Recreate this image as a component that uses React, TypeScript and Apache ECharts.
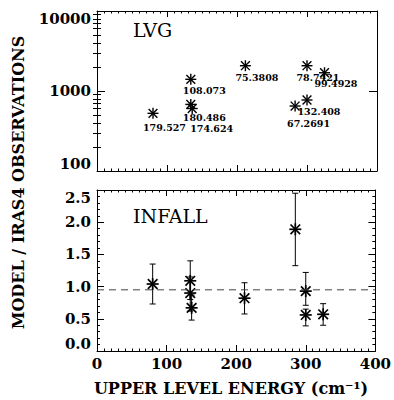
import React, { useEffect, useRef } from 'react';
import * as echarts from 'echarts';

// ---------- data ----------
const energyTicks = [0, 100, 200, 300, 400];

// LVG panel (top)
const lvgEnergy = [80, 134, 134, 136, 212, 300, 325, 283, 300];
const lvgValues = [526, 1400, 680, 604, 2070, 2070, 1690, 649, 772];
const lvgLabels = ['179.527', '108.073', '180.486', '174.624', '75.3808', '78.7421', '99.4928', '67.2691', '132.408'];
const lvgMajorTicks = [100, 1000, 10000];
const lvgMinorTicks = [200, 300, 400, 500, 600, 700, 800, 900, 2000, 3000, 4000, 5000, 6000, 7000, 8000, 9000];

// INFALL panel (bottom)
const infallEnergy = [80, 134, 134, 136, 212, 285, 300, 300, 325];
const infallRatio = [1.04, 1.09, 0.9, 0.67, 0.82, 1.89, 0.93, 0.56, 0.57];
const infallLow = [0.73, 0.8, 0.62, 0.48, 0.575, 1.325, 0.71, 0.39, 0.4];
const infallHigh = [1.35, 1.4, 1.15, 0.87, 1.06, 2.45, 1.22, 0.65, 0.735];
const referenceLevel = 0.95;

// ---------- layout / style constants ----------
const LABEL_NUDGE: number[][] = [
  [-10, 14], [-8, 11.5], [-8, 13], [-2, 20], [-10, 12], [-10.5, 12], [-10, 11], [-8, 17.5], [-9.5, 11.5],
];
const SERIF = '"DejaVu Serif", serif';
const INK = '#000';

function star(cx: number, cy: number, r: number, w: number) {
  const d = r * 0.8;
  const s = { stroke: INK, lineWidth: w };
  return [
    { type: 'line', shape: { x1: cx, y1: cy - r, x2: cx, y2: cy + r }, style: s },
    { type: 'line', shape: { x1: cx - r, y1: cy, x2: cx + r, y2: cy }, style: s },
    { type: 'line', shape: { x1: cx - d, y1: cy - d, x2: cx + d, y2: cy + d }, style: s },
    { type: 'line', shape: { x1: cx - d, y1: cy + d, x2: cx + d, y2: cy - d }, style: s },
  ];
}

const axisLine = { show: true, onZero: false, lineStyle: { color: INK, width: 1 } };
const tickLabel = { color: INK, fontSize: 15, fontWeight: 'bold', fontFamily: SERIF };

function xAxes(gridIndex: number, withLabels: boolean) {
  const base = {
    type: 'value',
    gridIndex,
    min: energyTicks[0],
    max: energyTicks[energyTicks.length - 1],
    interval: 100,
    axisLine,
    splitLine: { show: false },
    axisTick: { show: true, inside: true, length: 6, lineStyle: { color: INK } },
    minorTick: { show: true, splitNumber: 10, length: 2.5, lineStyle: { color: INK } },
  };
  return [
    { ...base, position: 'bottom', axisLabel: withLabels ? { ...tickLabel, margin: 5 } : { show: false } },
    { ...base, position: 'top', axisLabel: { show: false } },
  ];
}

const option: any = {
  animation: false,
  backgroundColor: '#fff',
  grid: [
    { left: 97, right: 17, top: 11, height: 160 },
    { left: 97, right: 17, top: 190, height: 161 },
  ],
  xAxis: [...xAxes(0, false), ...xAxes(1, true)],
  yAxis: [
    {
      type: 'log', gridIndex: 0, position: 'left', logBase: 10, min: 100, max: 10000,
      axisLine, splitLine: { show: false },
      axisTick: { show: true, inside: true, length: 8, customValues: lvgMajorTicks, lineStyle: { color: INK } },
      axisLabel: {
        ...tickLabel, margin: 6, customValues: lvgMajorTicks,
        verticalAlignMinLabel: 'bottom', verticalAlignMaxLabel: 'top',
        formatter: (v: number) => String(Math.round(v)),
      },
    },
    {
      type: 'log', gridIndex: 0, position: 'right', logBase: 10, min: 100, max: 10000,
      axisLine, splitLine: { show: false },
      axisTick: { show: true, inside: true, length: 8, customValues: lvgMajorTicks, lineStyle: { color: INK } },
      axisLabel: { show: false },
    },
    {
      type: 'log', gridIndex: 0, position: 'left', logBase: 10, min: 100, max: 10000,
      axisLine: { show: false }, splitLine: { show: false },
      axisTick: { show: true, inside: true, length: 4, customValues: lvgMinorTicks, lineStyle: { color: INK } },
      axisLabel: { show: false },
    },
    {
      type: 'log', gridIndex: 0, position: 'right', logBase: 10, min: 100, max: 10000,
      axisLine: { show: false }, splitLine: { show: false },
      axisTick: { show: true, inside: true, length: 4, customValues: lvgMinorTicks, lineStyle: { color: INK } },
      axisLabel: { show: false },
    },
    {
      type: 'value', gridIndex: 1, position: 'left', min: 0, max: 2.5, interval: 0.5,
      axisLine, splitLine: { show: false },
      axisTick: { show: true, inside: true, length: 7, lineStyle: { color: INK } },
      minorTick: { show: true, splitNumber: 5, length: 3, lineStyle: { color: INK } },
      axisLabel: {
        ...tickLabel, margin: 6,
        verticalAlignMinLabel: 'bottom', verticalAlignMaxLabel: 'top',
        formatter: (v: number) => v.toFixed(1),
      },
    },
    {
      type: 'value', gridIndex: 1, position: 'right', min: 0, max: 2.5, interval: 0.5,
      axisLine, splitLine: { show: false },
      axisTick: { show: true, inside: true, length: 7, lineStyle: { color: INK } },
      minorTick: { show: true, splitNumber: 5, length: 3, lineStyle: { color: INK } },
      axisLabel: { show: false },
    },
  ],
  graphic: [
    { type: 'text', left: 133, top: 20, style: { text: 'LVG', font: `19px ${SERIF}`, fill: INK } },
    { type: 'text', left: 133, top: 206, style: { text: 'INFALL', font: `19px ${SERIF}`, fill: INK } },
    {
      type: 'text', x: 18, y: 182.5, rotation: Math.PI / 2,
      style: { text: 'MODEL / IRAS4 OBSERVATIONS', font: `bold 16px ${SERIF}`, fill: INK, align: 'center', verticalAlign: 'middle' },
    },
    {
      type: 'text', x: 231, y: 388,
      style: { text: 'UPPER LEVEL ENERGY (cm⁻¹)', font: `bold 16px ${SERIF}`, fill: INK, align: 'center', verticalAlign: 'middle' },
    },
  ],
  series: [
    {
      type: 'custom', xAxisIndex: 0, yAxisIndex: 0, clip: false,
      data: lvgEnergy.map((x, i) => [x, lvgValues[i], i]),
      renderItem: (_p: any, api: any) => {
        const i = api.value(2);
        const pt = api.coord([api.value(0), api.value(1)]);
        const [dx, dy] = LABEL_NUDGE[i];
        return {
          type: 'group',
          children: [
            ...star(pt[0], pt[1], 5.5, 1.4),
            {
              type: 'text',
              style: {
                text: lvgLabels[i], x: pt[0] + dx, y: pt[1] + dy,
                font: `bold 9.5px ${SERIF}`, fill: INK, align: 'left', verticalAlign: 'middle',
              },
            },
          ],
        };
      },
    },
    {
      type: 'line', xAxisIndex: 2, yAxisIndex: 4, symbol: 'none', silent: true,
      data: [[energyTicks[0], referenceLevel], [energyTicks[energyTicks.length - 1], referenceLevel]],
      lineStyle: { color: '#444', width: 1, type: [7, 5] },
    },
    {
      type: 'custom', xAxisIndex: 2, yAxisIndex: 4, clip: false,
      data: infallEnergy.map((x, i) => [x, infallLow[i], infallHigh[i]]),
      renderItem: (_p: any, api: any) => {
        const lo = api.coord([api.value(0), api.value(1)]);
        const hi = api.coord([api.value(0), api.value(2)]);
        const s = { stroke: INK, lineWidth: 1 };
        const c = 3;
        return {
          type: 'group',
          children: [
            { type: 'line', shape: { x1: lo[0], y1: lo[1], x2: hi[0], y2: hi[1] }, style: s },
            { type: 'line', shape: { x1: lo[0] - c, y1: lo[1], x2: lo[0] + c, y2: lo[1] }, style: s },
            { type: 'line', shape: { x1: hi[0] - c, y1: hi[1], x2: hi[0] + c, y2: hi[1] }, style: s },
          ],
        };
      },
    },
    {
      type: 'custom', xAxisIndex: 2, yAxisIndex: 4, clip: false,
      data: infallEnergy.map((x, i) => [x, infallRatio[i]]),
      renderItem: (_p: any, api: any) => {
        const pt = api.coord([api.value(0), api.value(1)]);
        return { type: 'group', children: star(pt[0], pt[1], 6, 1.7) };
      },
    },
  ],
};

export default function App() {
  const ref = useRef<HTMLDivElement>(null);
  useEffect(() => {
    if (!ref.current) return;
    const chart = echarts.init(ref.current, null, { renderer: 'svg' });
    chart.setOption(option);
    return () => chart.dispose();
  }, []);
  return (
    <div
      ref={ref}
      style={{ position: 'fixed', left: 0, top: 0, width: 394, height: 400, background: '#fff' }}
    />
  );
}
